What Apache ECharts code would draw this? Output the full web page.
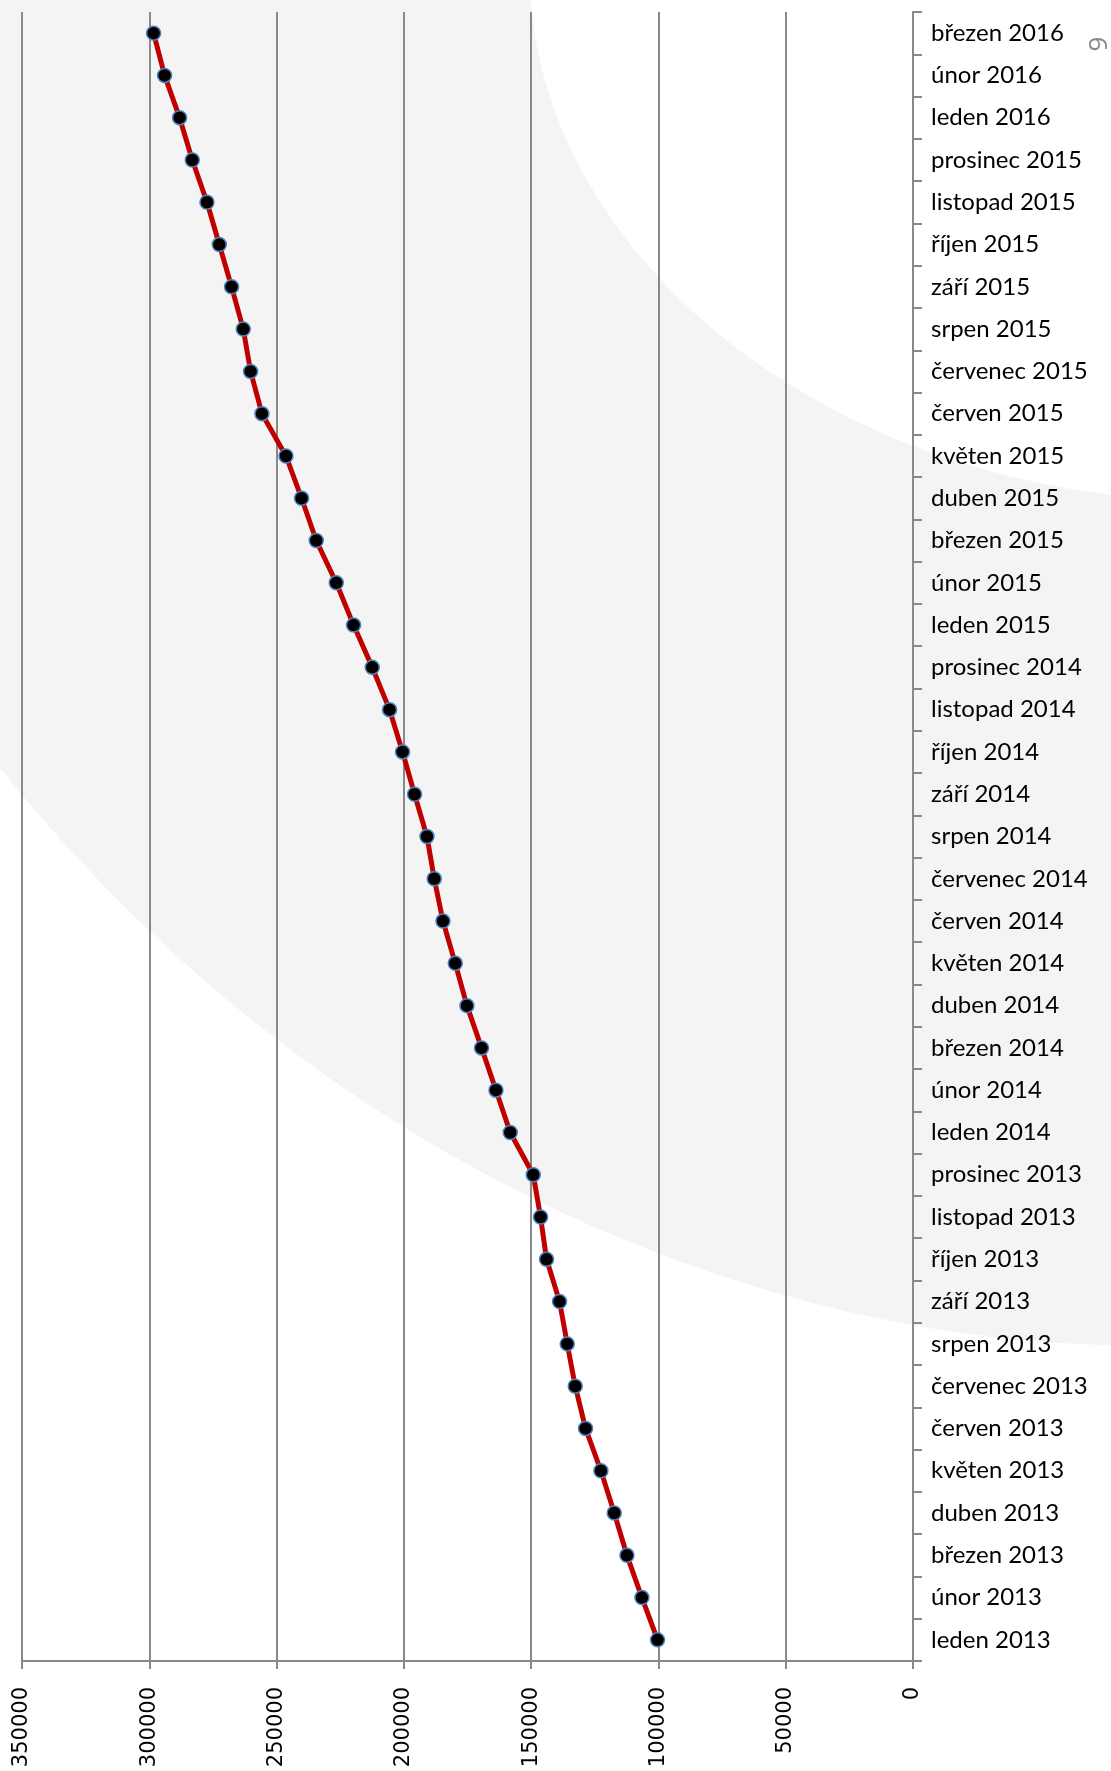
<!DOCTYPE html>
<html>
<head>
<meta charset="utf-8">
<script src="https://cdn.jsdelivr.net/npm/echarts@6/dist/echarts.min.js"></script>
<style>
  html, body { margin: 0; padding: 0; background: #ffffff; }
  #chart { width: 1111px; height: 1771px; }
</style>
</head>
<body>
<div id="chart"></div>
<script>
// měsíce, od nejstaršího (dole) po nejnovější (nahoře)
const months = [
  'leden 2013', 'únor 2013', 'březen 2013', 'duben 2013', 'květen 2013', 'červen 2013',
  'červenec 2013', 'srpen 2013', 'září 2013', 'říjen 2013', 'listopad 2013', 'prosinec 2013',
  'leden 2014', 'únor 2014', 'březen 2014', 'duben 2014', 'květen 2014', 'červen 2014',
  'červenec 2014', 'srpen 2014', 'září 2014', 'říjen 2014', 'listopad 2014', 'prosinec 2014',
  'leden 2015', 'únor 2015', 'březen 2015', 'duben 2015', 'květen 2015', 'červen 2015',
  'červenec 2015', 'srpen 2015', 'září 2015', 'říjen 2015', 'listopad 2015', 'prosinec 2015',
  'leden 2016', 'únor 2016', 'březen 2016'
]

const values = [
  100350, 106480, 112370, 117360, 122590, 128630,
  132680, 135820, 138840, 143950, 146300, 149170,
  158210, 163820, 169480, 175220, 179810, 184640,
  188060, 190930, 195800, 200510, 205620, 212410,
  219750, 226550, 234410, 240180, 246310, 255740,
  260210, 263080, 267670, 272500, 277330, 283110,
  288100, 293990, 298310
]

const valueMin = 0
const valueMax = 350000
const valueStep = 50000

const pageNumber = '9'

// okraj šedého oblouku v pozadí (kubická Bézierova křivka -> body polygonu)
function bezierPoints(p0, p1, p2, p3, n) {
  const pts = []
  for (let i = 0; i <= n; i++) {
    const t = i / n
    const a = (1 - t) * (1 - t) * (1 - t)
    const b = 3 * (1 - t) * (1 - t) * t
    const c = 3 * (1 - t) * t * t
    const d = t * t * t
    pts.push([
      a * p0[0] + b * p1[0] + c * p2[0] + d * p3[0],
      a * p0[1] + b * p1[1] + c * p2[1] + d * p3[1]
    ])
  }
  return pts
}

const swoosh = [[0, 0]]
  .concat(bezierPoints([531, 0], [545, 220], [760, 450], [1111, 495], 60))
  .concat(bezierPoints([1111, 1345], [780, 1340], [330, 1180], [0, 768], 60))

const chart = echarts.init(document.getElementById('chart'))

chart.setOption({
  backgroundColor: '#ffffff',
  animation: false,
  grid: { left: 22, right: 198, top: 12, bottom: 110, containLabel: false },
  graphic: [
    {
      type: 'polygon',
      z: -100,
      silent: true,
      shape: { points: swoosh },
      style: { fill: '#f4f4f4' }
    },
    {
      type: 'text',
      x: 1100,
      y: 44,
      rotation: Math.PI / 2,
      silent: true,
      style: {
        text: pageNumber,
        font: '26px "Open Sans"',
        fill: '#8a8a8a',
        align: 'center',
        verticalAlign: 'middle'
      }
    }
  ],
  xAxis: {
    type: 'value',
    inverse: true,
    min: valueMin,
    max: valueMax,
    interval: valueStep,
    position: 'bottom',
    axisLine: { show: true, lineStyle: { color: '#898989', width: 2 } },
    axisTick: { show: true, length: 8, lineStyle: { color: '#898989', width: 2 } },
    splitLine: { show: true, lineStyle: { color: '#898989', width: 2 } },
    axisLabel: {
      rotate: 90,
      margin: 26,
      color: '#000000',
      fontFamily: 'DejaVu Sans',
      fontSize: 21,
      formatter: (v) => String(v)
    }
  },
  yAxis: {
    type: 'category',
    data: months,
    position: 'right',
    boundaryGap: true,
    axisLine: { show: true, lineStyle: { color: '#898989', width: 2 } },
    axisTick: { show: true, length: 9, interval: 0, lineStyle: { color: '#898989', width: 2 } },
    splitLine: { show: false },
    axisLabel: {
      interval: 0,
      margin: 18,
      color: '#000000',
      fontFamily: 'Lato',
      fontSize: 24
    }
  },
  series: [
    {
      type: 'line',
      data: values,
      symbol: 'circle',
      symbolSize: 14,
      lineStyle: { color: '#c00000', width: 5 },
      itemStyle: { color: '#000000', borderColor: '#4f81bd', borderWidth: 1.5 },
      z: 3
    }
  ]
})
</script>
</body>
</html>
